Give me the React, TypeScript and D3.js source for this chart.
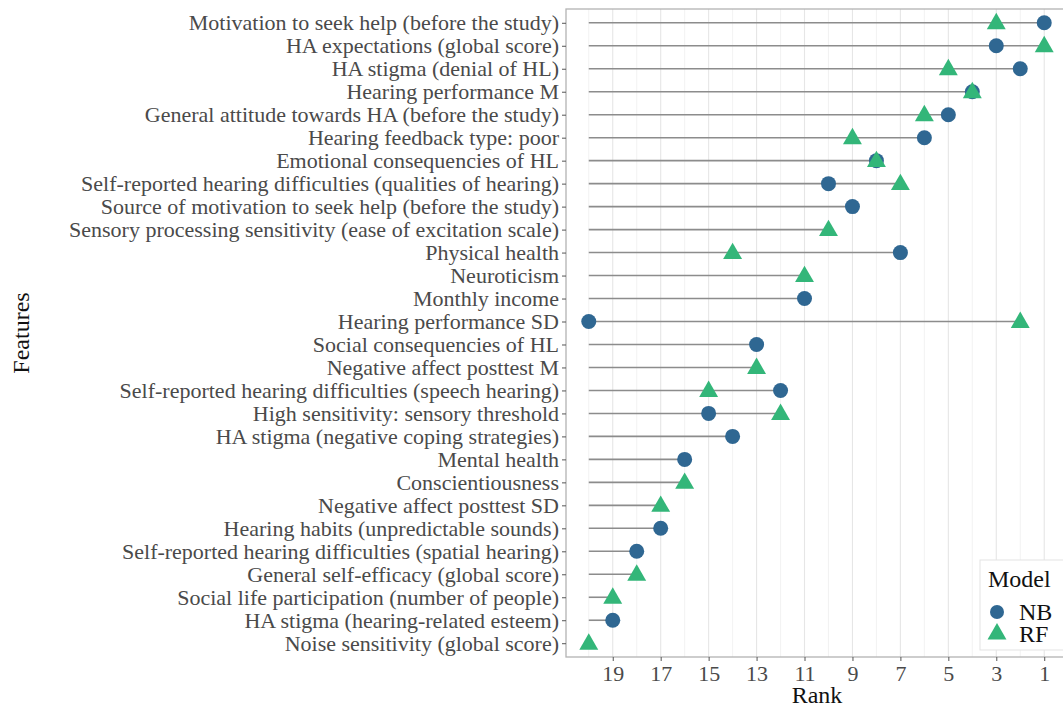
import { useRef, useEffect } from "react";
import * as d3 from "d3";

// Features, top to bottom
const features = [
  "Motivation to seek help (before the study)",
  "HA expectations (global score)",
  "HA stigma (denial of HL)",
  "Hearing performance M ",
  "General attitude towards HA (before the study)",
  "Hearing feedback type: poor",
  "Emotional consequencies of HL",
  "Self-reported hearing difficulties (qualities of hearing)",
  "Source of motivation to seek help (before the study)",
  "Sensory processing sensitivity (ease of excitation scale)",
  "Physical health",
  "Neuroticism",
  "Monthly income",
  "Hearing performance SD",
  "Social consequencies of HL",
  "Negative affect posttest M",
  "Self-reported hearing difficulties (speech hearing)",
  "High sensitivity: sensory threshold",
  "HA stigma (negative coping strategies)",
  "Mental health",
  "Conscientiousness",
  "Negative affect posttest SD",
  "Hearing habits (unpredictable sounds)",
  "Self-reported hearing difficulties (spatial hearing)",
  "General self-efficacy (global score)",
  "Social life participation (number of people)",
  "HA stigma (hearing-related esteem)",
  "Noise sensitivity (global score)",
];

// rank per feature, null = not in that model's top 20
const nbRank = [1, 3, 2, 4, 5, 6, 8, 10, 9, null, 7, null, 11, 20, 13, null, 12, 15, 14, 16, null, null, 17, 18, null, null, 19, null];
const rfRank = [3, 1, 5, 4, 6, 9, 8, 7, null, 10, 14, 11, null, 2, null, 13, 15, 12, null, null, 16, 17, null, null, 18, 19, null, 20];

const rankTicks = [19, 17, 15, 13, 11, 9, 7, 5, 3, 1];
const minorTicks = [20, 18, 16, 14, 12, 10, 8, 6, 4, 2];

const NB_COLOR = "#2f6792";
const RF_COLOR = "#33b679";

export default function App() {
  const svgRef = useRef<SVGSVGElement>(null);

  useEffect(() => {
    const width = 1063;
    const height = 708;
    const panel = { left: 566, right: 1067, top: 9, bottom: 657 };
    const font = "'Liberation Serif', 'Times New Roman', serif";

    const svg = d3.select(svgRef.current)
      .attr("width", width)
      .attr("height", height)
      .style("font-family", font);
    svg.selectAll("*").remove();

    const x = d3.scaleLinear().domain([20.95, 0.05]).range([panel.left, panel.right]);
    const y = d3.scalePoint<string>().domain(features).range([panel.top, panel.bottom]).padding(0.6);

    // grid
    const g = svg.append("g");
    g.selectAll(".minor")
      .data(minorTicks)
      .join("line")
      .attr("x1", d => x(d)).attr("x2", d => x(d))
      .attr("y1", panel.top).attr("y2", panel.bottom)
      .attr("stroke", "#efefef").attr("stroke-width", 0.8);
    g.selectAll(".major")
      .data(rankTicks)
      .join("line")
      .attr("x1", d => x(d)).attr("x2", d => x(d))
      .attr("y1", panel.top).attr("y2", panel.bottom)
      .attr("stroke", "#e6e6e6").attr("stroke-width", 1.1);

    // segments: from rank 20 to the best rank of either model
    const rows = features.map((f, i) => ({
      f,
      nb: nbRank[i],
      rf: rfRank[i],
      best: d3.min([nbRank[i], rfRank[i]].filter(v => v != null) as number[]) as number,
    }));

    g.selectAll(".seg")
      .data(rows)
      .join("line")
      .attr("x1", x(20)).attr("x2", d => x(d.best))
      .attr("y1", d => y(d.f)!).attr("y2", d => y(d.f)!)
      .attr("stroke", "#8c8c8c").attr("stroke-width", 1.6);

    // NB circles
    g.selectAll(".nb")
      .data(rows.filter(d => d.nb != null))
      .join("circle")
      .attr("cx", d => x(d.nb as number)).attr("cy", d => y(d.f)!)
      .attr("r", 7.5)
      .attr("fill", NB_COLOR);

    // RF triangles
    const tri = d3.symbol().type(d3.symbolTriangle).size(155);
    g.selectAll(".rf")
      .data(rows.filter(d => d.rf != null))
      .join("path")
      .attr("d", tri)
      .attr("transform", d => `translate(${x(d.rf as number)},${y(d.f)! + 1})`)
      .attr("fill", RF_COLOR);

    // panel border
    svg.append("rect")
      .attr("x", panel.left).attr("y", panel.top)
      .attr("width", panel.right - panel.left).attr("height", panel.bottom - panel.top)
      .attr("fill", "none").attr("stroke", "#b3b3b3").attr("stroke-width", 1.3);

    // y axis
    const yAxis = svg.append("g")
      .attr("transform", `translate(${panel.left},0)`)
      .call(d3.axisLeft(y).tickSize(4).tickPadding(3));
    yAxis.select(".domain").remove();
    yAxis.selectAll(".tick line").attr("stroke", "#555");
    yAxis.selectAll(".tick text")
      .attr("fill", "#4a4a4a")
      .style("font-size", "22px")
      .style("font-family", font);

    // x axis
    const xAxis = svg.append("g")
      .attr("transform", `translate(0,${panel.bottom})`)
      .call(d3.axisBottom(x).tickValues(rankTicks).tickFormat(d3.format("d")).tickSize(4).tickPadding(4));
    xAxis.select(".domain").remove();
    xAxis.selectAll(".tick line").attr("stroke", "#555");
    xAxis.selectAll(".tick text")
      .attr("fill", "#4a4a4a")
      .style("font-size", "22px")
      .style("font-family", font);

    // axis titles
    svg.append("text")
      .attr("x", 817).attr("y", 703)
      .attr("text-anchor", "middle")
      .style("font-size", "24px")
      .attr("fill", "#111")
      .text("Rank");
    svg.append("text")
      .attr("transform", `translate(29,${(panel.top + panel.bottom) / 2}) rotate(-90)`)
      .attr("text-anchor", "middle")
      .style("font-size", "24px")
      .attr("fill", "#111")
      .text("Features");

    // legend
    const lg = svg.append("g");
    lg.append("rect")
      .attr("x", 980).attr("y", 560).attr("width", 95).attr("height", 90)
      .attr("fill", "white").attr("stroke", "#e3e3e3").attr("stroke-width", 1);
    lg.append("text")
      .attr("x", 988).attr("y", 587)
      .style("font-size", "24px").attr("fill", "#111")
      .text("Model");
    lg.append("circle").attr("cx", 997).attr("cy", 612).attr("r", 7).attr("fill", NB_COLOR);
    lg.append("path").attr("d", tri).attr("transform", "translate(997,634)").attr("fill", RF_COLOR);
    lg.append("text").attr("x", 1019).attr("y", 620)
      .style("font-size", "24px").attr("fill", "#111").text("NB");
    lg.append("text").attr("x", 1019).attr("y", 642)
      .style("font-size", "24px").attr("fill", "#111").text("RF");
  }, []);

  return (
    <svg ref={svgRef} style={{ position: "absolute", left: 0, top: 0, background: "white" }}></svg>
  );
}
